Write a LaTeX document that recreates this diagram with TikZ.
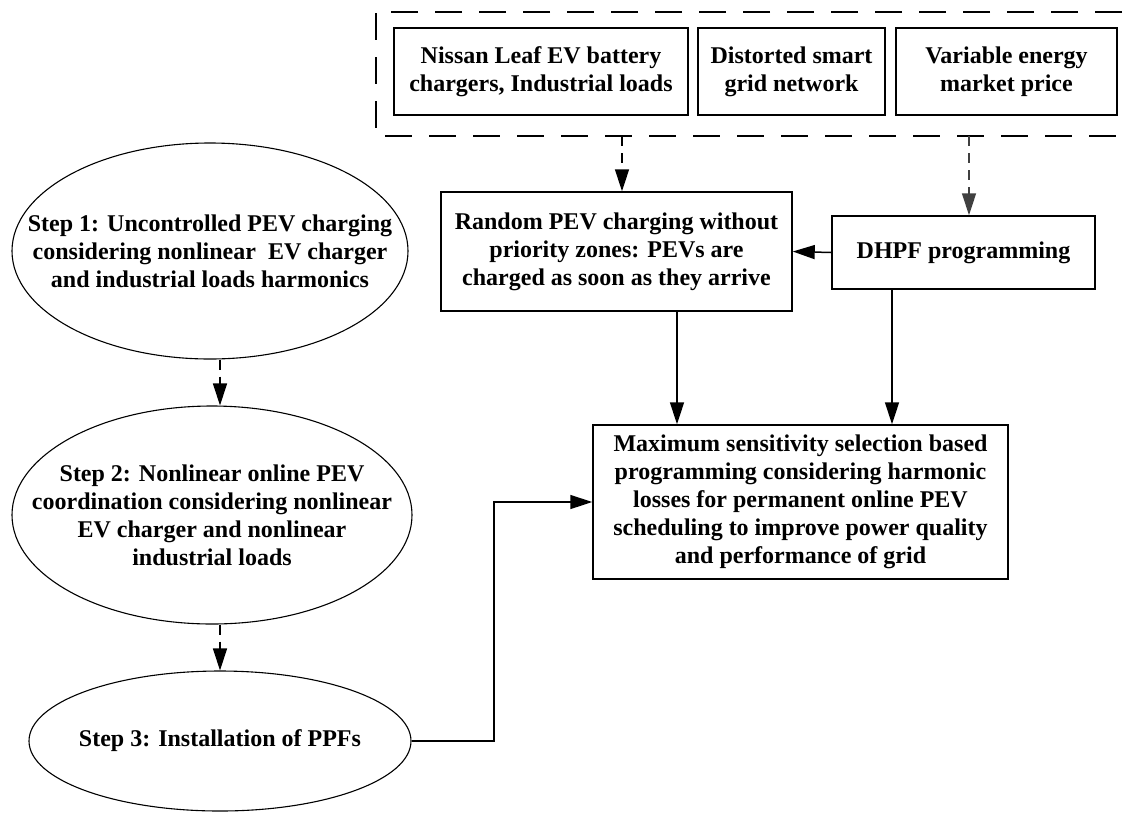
\documentclass[tikz,border=0pt]{standalone}
\usepackage{fontspec}
\setmainfont{Liberation Serif}
\usetikzlibrary{shapes.geometric,arrows.meta,calc}
\begin{document}
\begin{tikzpicture}[x=1pt,y=-1pt,
  lbl/.style={align=center, inner sep=0pt, font=\bfseries\fontsize{24}{28}\selectfont},
  box/.style={lbl, draw, line width=1.5pt, rectangle},
  ell/.style={draw, line width=1.1pt, ellipse, inner sep=0pt},
  arr/.style={line width=1.5pt, -{Triangle[length=22pt,width=14pt]}},
  darr/.style={arr, dash pattern=on 10pt off 7pt},
  grpline/.style={line width=1.6pt, dash pattern=on 27pt off 17pt}]
\useasboundingbox (0,0) rectangle (1132,812);
\clip (0,0) rectangle (1132,812);
\definecolor{grayarr}{HTML}{404040}

% dashed container (its right side lies beyond the picture)
\node[inner sep=0pt, minimum width=790pt, minimum height=124pt] (grp) at (771,74) {};
\draw[grpline] (grp.north east) -- (grp.north west) -- (grp.south west) -- (grp.south east);
\node[box, minimum width=294pt, minimum height=87pt] (b1) at (541,71.5) {Nissan Leaf EV battery\\chargers, Industrial loads};
\node[box, minimum width=187pt, minimum height=87pt] (b2) at (791.5,71.5) {Distorted smart\\grid network};
\node[box, minimum width=221pt, minimum height=87pt] (b3) at (1006.5,71.5) {Variable energy\\market price};

% middle boxes
\node[box, minimum width=351pt, minimum height=119pt] (rnd) at (616.5,251.5) {Random PEV charging without\\priority zones: PEVs are\\charged as soon as they arrive};
\node[box, minimum width=263pt, minimum height=73pt] (dhpf) at (963.5,252.5) {DHPF programming};
\node[box, minimum width=415pt, minimum height=154pt] (max) at (800.5,502) {Maximum sensitivity selection based\\programming considering harmonic\\losses for permanent online PEV\\scheduling to improve power quality\\and performance of grid};

% ellipses
\node[ell, minimum width=396pt, minimum height=216pt] (s1) at (210,251) {};
\node[lbl] (s1t) at (s1) {Step 1: Uncontrolled PEV charging\\considering nonlinear\ \ EV charger\\and industrial loads harmonics};
\node[ell, minimum width=400pt, minimum height=218pt] (s2) at (212,515) {};
\node[lbl] (s2t) at (s2) {Step 2: Nonlinear online PEV\\coordination considering nonlinear\\EV charger and nonlinear\\industrial loads};
\node[ell, minimum width=382pt, minimum height=140pt] (s3) at (220,741) {};
\node[lbl] (s3t) at (s3) {Step 3: Installation of PPFs};

% helper x positions
\coordinate (a1) at (622,0);
\coordinate (a2) at (969,0);
\coordinate (a3) at (677,0);
\coordinate (a4) at (892,0);
\coordinate (a5) at (494,0);

% connectors
\draw[darr] (grp.south -| a1) -- (rnd.north -| a1);
\draw[darr, grayarr] (grp.south -| a2) -- (dhpf.north -| a2);
\draw[arr] (dhpf.west) -- (rnd.east);
\draw[arr] (rnd.south -| a3) -- (max.north -| a3);
\draw[arr] (dhpf.south -| a4) -- (max.north -| a4);
\draw[darr] (s1.south -| s3.center) -- (s2.north -| s3.center);
\draw[darr] (s2.south -| s3.center) -- (s3.north);
\draw[arr] (s3.east) -- (s3.east -| a5) -- (max.west -| a5) -- (max.west);
\end{tikzpicture}
\end{document}
